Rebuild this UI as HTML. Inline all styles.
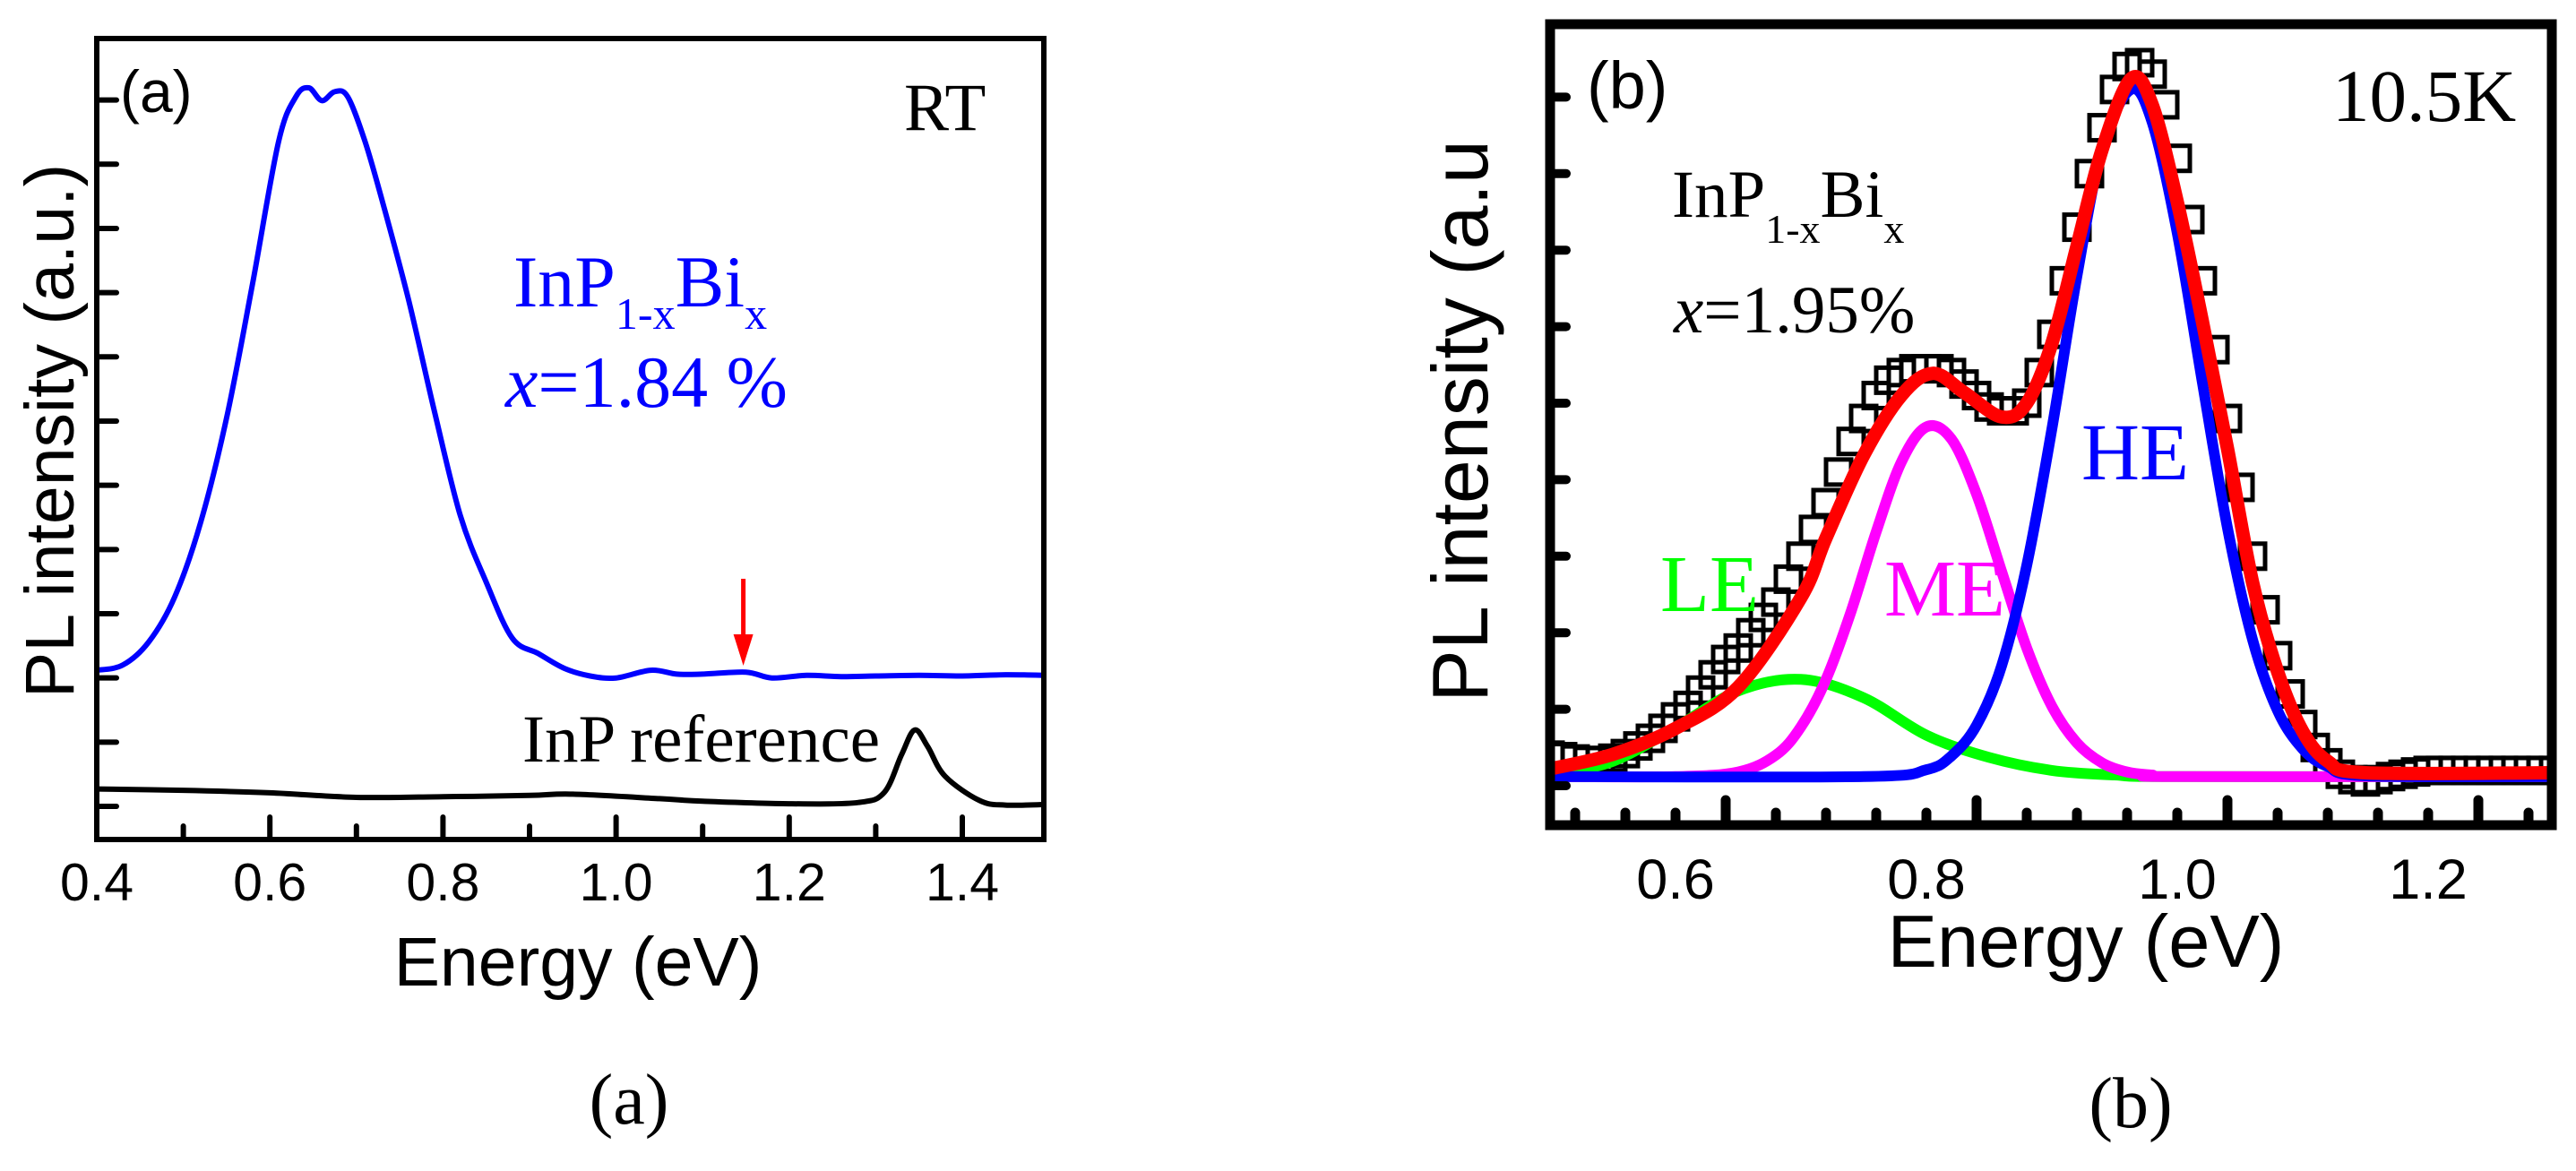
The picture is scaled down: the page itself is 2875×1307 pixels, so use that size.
<!DOCTYPE html>
<html><head><meta charset="utf-8"><style>
html,body{margin:0;padding:0;background:#fff;}
svg{display:block;}
.sans{font-family:"Liberation Sans",Arial,sans-serif;}
.serif{font-family:"Liberation Serif","Times New Roman",serif;}
</style></head><body>
<svg id="fig" width="2875" height="1307" viewBox="0 0 2875 1307" xmlns="http://www.w3.org/2000/svg">
<defs>
<clipPath id="clipA"><rect x="108" y="43" width="1057" height="894"/></clipPath>
<clipPath id="clipB"><rect x="1730" y="27" width="1118" height="894"/></clipPath>
</defs>
<g id="panelA">
<g id="dataA" clip-path="url(#clipA)"></g>
<g id="axesA"></g>
<text class="sans" x="134" y="125" font-size="66">(a)</text>
<text class="serif" x="1009" y="145" font-size="75">RT</text>
<text class="serif" x="573" y="342" font-size="82" fill="#0000ff">InP<tspan font-size="50" dy="25">1-x</tspan><tspan dy="-25">Bi</tspan><tspan font-size="50" dy="25">x</tspan></text>
<text class="serif" x="564" y="454" font-size="82" fill="#0000ff"><tspan font-style="italic">x</tspan>=1.84 %</text>
<text class="serif" x="583" y="850" font-size="75">InP reference</text>
<text class="sans" transform="translate(82,481) rotate(-90)" text-anchor="middle" font-size="77">PL intensity (a.u.)</text>
<text class="sans" x="645" y="1100" text-anchor="middle" font-size="77">Energy (eV)</text>
<text class="serif" x="702" y="1254" text-anchor="middle" font-size="80">(a)</text>
</g>
<g id="panelB">
<g id="dataB" clip-path="url(#clipB)"></g>
<g id="axesB"></g>
<text class="sans" x="1771" y="121" font-size="74">(b)</text>
<text class="serif" x="2603" y="135" font-size="83">10.5K</text>
<text class="serif" x="1866" y="242" font-size="75">InP<tspan font-size="46" dy="29">1-x</tspan><tspan dy="-29">Bi</tspan><tspan font-size="46" dy="29">x</tspan></text>
<text class="serif" x="1868" y="371" font-size="75"><tspan font-style="italic">x</tspan>=1.95%</text>
<text class="serif" x="2323" y="535" font-size="90" fill="#0000ff">HE</text>
<text class="serif" x="2103" y="687" font-size="90" fill="#ff00ff">ME</text>
<text class="serif" x="1853" y="682" font-size="90" fill="#00ff00">LE</text>
<text class="sans" transform="translate(1660,470) rotate(-90)" text-anchor="middle" font-size="88">PL intensity (a.u</text>
<text class="sans" x="2328" y="1079" text-anchor="middle" font-size="83">Energy (eV)</text>
<text class="serif" x="2378" y="1258" text-anchor="middle" font-size="80">(b)</text>
</g>
</svg>
<script>
// ---------- Panel (a) data ----------
const blueE = [0.40,0.43,0.46,0.49,0.52,0.55,0.58,0.61,0.63,0.645,0.66,0.675,0.69,0.71,0.73,0.76,0.79,0.82,0.85,0.88,0.91,0.94,0.97,1.00,1.04,1.07,1.10,1.15,1.18,1.22,1.26,1.30,1.35,1.40,1.45,1.50];
const blueV = [2.12,2.2,2.56,3.26,4.42,6.05,8.14,10.35,11.05,11.19,10.99,11.13,11.05,10.35,9.42,7.9,6.16,4.53,3.49,2.62,2.38,2.15,2.03,2.0,2.12,2.06,2.06,2.09,2.0,2.04,2.02,2.03,2.04,2.03,2.05,2.04];
const blackE = [0.40,0.50,0.60,0.70,0.80,0.90,0.95,1.05,1.10,1.20,1.28,1.31,1.33,1.345,1.36,1.38,1.42,1.45,1.50];
const blackV = [0.27,0.25,0.21,0.14,0.15,0.17,0.19,0.12,0.08,0.04,0.06,0.22,0.81,1.19,0.93,0.47,0.09,0.02,0.03];
const xTicksA = [0.4,0.6,0.8,1.0,1.2,1.4];
const xTickLabelsA = ["0.4","0.6","0.8","1.0","1.2","1.4"];
const arrowE = [1.147];

// ---------- Panel (b) data ----------
const dataE = [];
for (let i = 0; i <= 80; i++) dataE.push(0.5 + i * 0.01);
const dataV = [0.40,0.38,0.35,0.33,0.33,0.36,0.42,0.52,0.62,0.75,0.9,1.05,1.25,1.45,1.65,1.8,2.0,2.2,2.4,2.7,3.0,3.35,3.7,4.1,4.5,4.8,5.1,5.3,5.4,5.45,5.45,5.45,5.4,5.25,5.1,4.95,4.9,4.9,5.0,5.4,5.9,6.6,7.3,8.0,8.6,9.1,9.4,9.45,9.3,8.9,8.2,7.4,6.6,5.7,4.8,3.9,3.0,2.3,1.7,1.2,0.8,0.5,0.3,0.15,0.08,0.05,0.08,0.12,0.15,0.18,0.2,0.2,0.2,0.2,0.2,0.2,0.2,0.2,0.2,0.2,0.2];
const greenE = [0.5,0.55,0.6,0.65,0.7,0.75,0.8,0.85,0.9,0.95,1.0,1.3];
const greenV = [0.14,0.32,0.76,1.24,1.39,1.15,0.66,0.37,0.2,0.14,0.12,0.12];
const magE = [0.5,0.6,0.65,0.68,0.7,0.72,0.74,0.76,0.78,0.8,0.82,0.84,0.86,0.88,0.9,0.92,0.94,0.96,0.98,1.0,1.3];
const magV = [0.12,0.12,0.18,0.40,0.77,1.39,2.28,3.32,4.23,4.69,4.53,3.81,2.80,1.80,1.04,0.56,0.30,0.18,0.14,0.12,0.12];
const blueBE = [0.5,0.75,0.8,0.82,0.84,0.86,0.88,0.9,0.92,0.94,0.963,0.98,1.0,1.02,1.04,1.06,1.08,1.1,1.12,1.15,1.3];
const blueBV = [0.12,0.12,0.21,0.39,0.79,1.57,2.88,4.66,6.66,8.32,9.1,8.67,7.22,5.27,3.37,1.91,0.98,0.48,0.25,0.13,0.12];
const redE = [0.5,0.55,0.6,0.65,0.7,0.72,0.75,0.78,0.805,0.83,0.86,0.88,0.9,0.92,0.94,0.963,0.98,1.0,1.02,1.04,1.06,1.08,1.1,1.12,1.15,1.3];
const redV = [0.22,0.41,0.75,1.29,2.46,3.24,4.32,5.1,5.39,5.14,4.82,5.0,5.78,7.05,8.31,9.24,8.9,7.63,6.07,4.41,2.66,1.49,0.71,0.32,0.17,0.17];
const xTicksB = [0.6,0.8,1.0,1.2];
const xTickLabelsB = ["0.6","0.8","1.0","1.2"];

// ---------- axes functions ----------
const NS = "http://www.w3.org/2000/svg";
const xa = e => 108 + (e - 0.4) * 966;
const ya = v => 900 - 71.67 * v;
const xb = e => 1730 + (e - 0.5) * 1400;
const yb = v => 877 - 85.4 * v;

function mk(tag, attrs, parent) {
  const el = document.createElementNS(NS, tag);
  for (const k in attrs) el.setAttribute(k, attrs[k]);
  parent.appendChild(el);
  return el;
}
// smooth Catmull-Rom path through the data points
function smooth(E, V, fx, fy) {
  const p = E.map((e, i) => [fx(e), fy(V[i])]);
  let d = "M" + p[0][0].toFixed(1) + "," + p[0][1].toFixed(1);
  for (let i = 0; i < p.length - 1; i++) {
    const p0 = p[Math.max(0, i - 1)], p1 = p[i], p2 = p[i + 1], p3 = p[Math.min(p.length - 1, i + 2)];
    const c1x = p1[0] + (p2[0] - p0[0]) / 6, c1y = p1[1] + (p2[1] - p0[1]) / 6;
    const c2x = p2[0] - (p3[0] - p1[0]) / 6, c2y = p2[1] - (p3[1] - p1[1]) / 6;
    d += " C" + c1x.toFixed(1) + "," + c1y.toFixed(1) + " " + c2x.toFixed(1) + "," + c2y.toFixed(1) + " " + p2[0].toFixed(1) + "," + p2[1].toFixed(1);
  }
  return d;
}

const dA = document.getElementById("dataA");
const axA = document.getElementById("axesA");
const dB = document.getElementById("dataB");
const axB = document.getElementById("axesB");

// panel a lines
let l = mk("path", {d: smooth(blackE, blackV, xa, ya), fill: "none", stroke: "#000", "stroke-width": 6, "stroke-linejoin": "round"}, dA);


l = mk("path", {d: smooth(blueE, blueV, xa, ya), fill: "none", stroke: "#0000ff", "stroke-width": 6, "stroke-linejoin": "round"}, dA);


// arrow
const ax = xa(arrowE[0]);
l = mk("g", {}, dA);


mk("line", {x1: ax, y1: 646, x2: ax, y2: 715, stroke: "#ff0000", "stroke-width": 5}, l);
mk("polygon", {points: `${ax-11},708 ${ax+11},708 ${ax},743`, fill: "#ff0000"}, l);

// panel a axes
l = mk("rect", {x: 108, y: 43, width: 1057, height: 894, fill: "none", stroke: "#000", "stroke-width": 6}, axA);


for (let k = 0; k <= 11; k++) {
  const t = mk("line", {x1: 108, y1: ya(k), x2: 130, y2: ya(k), stroke: "#000", "stroke-width": 6, "stroke-linecap": "round"}, axA);
  
  
}
for (let e = 0.5; e < 1.49; e += 0.1) {
  const major = Math.abs(Math.round(e * 10) % 2) === 0;
  const t = mk("line", {x1: xa(e), y1: 937, x2: xa(e), y2: major ? 912 : 922, stroke: "#000", "stroke-width": 6, "stroke-linecap": "round"}, axA);
  
  
}
xTicksA.forEach((e, i) => {
  const t = mk("text", {x: xa(e), y: 1005, "text-anchor": "middle", "font-size": 59, class: "sans"}, axA);
  t.textContent = xTickLabelsA[i];
  
  
});

// panel b data squares
dataE.forEach((e, i) => {
  const s = mk("rect", {x: xb(e) - 14, y: yb(dataV[i]) - 14, width: 28, height: 28, fill: "none", stroke: "#000", "stroke-width": 5}, dB);
  
  
});
const series = [[greenE, greenV, "#00ff00", 12, "le-fit-curve"], [magE, magV, "#ff00ff", 12, "me-fit-curve"], [blueBE, blueBV, "#0000ff", 12, "he-fit-curve"], [redE, redV, "#ff0000", 15, "total-fit-curve"]];
series.forEach(s => {
  const c = mk("path", {d: smooth(s[0], s[1], xb, yb), fill: "none", stroke: s[2], "stroke-width": s[3], "stroke-linejoin": "round"}, dB);
  
  
});

// panel b axes
l = mk("rect", {x: 1730, y: 27, width: 1118, height: 894, fill: "none", stroke: "#000", "stroke-width": 11}, axB);


for (let k = 0; k <= 9; k++) {
  const t = mk("line", {x1: 1730, y1: yb(k), x2: 1748, y2: yb(k), stroke: "#000", "stroke-width": 10, "stroke-linecap": "round"}, axB);
  
  
}
for (let i = 0; i <= 20; i++) {
  const e = 0.52 + i * 0.04;
  if (e > 1.3) break;
  const major = (i + 2) % 5 === 0;
  const t = mk("line", {x1: xb(e), y1: 921, x2: xb(e), y2: major ? 893 : 907, stroke: "#000", "stroke-width": 11, "stroke-linecap": "round"}, axB);
  
  
}
xTicksB.forEach((e, i) => {
  const t = mk("text", {x: xb(e), y: 1003, "text-anchor": "middle", "font-size": 63, class: "sans"}, axB);
  t.textContent = xTickLabelsB[i];
  
  
});
</script>
</body></html>
